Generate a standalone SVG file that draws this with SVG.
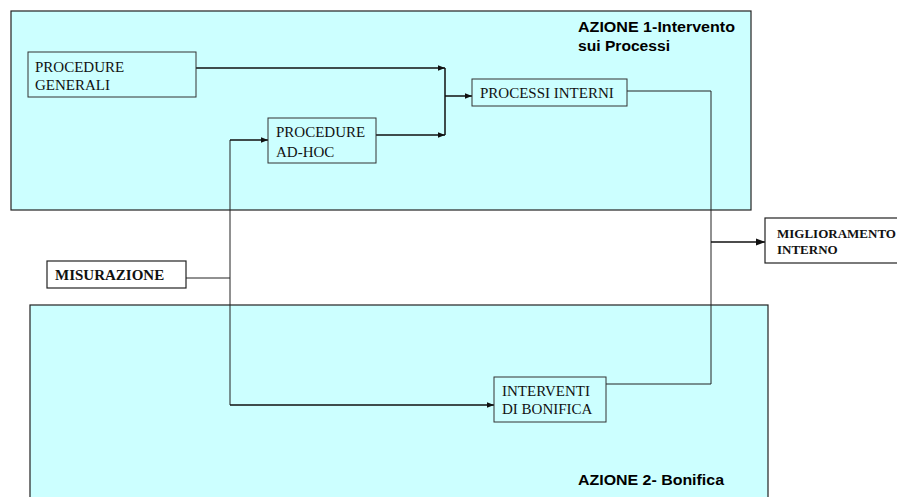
<svg xmlns="http://www.w3.org/2000/svg" width="897" height="497" viewBox="0 0 897 497">
<style>
.area{fill:#CCFFFF;stroke:#222;stroke-width:1.2}
.box{fill:#CCFFFF;stroke:#333;stroke-width:1}
.wbox{fill:#fff;stroke:#222;stroke-width:1.2}
.t{font-family:"Liberation Serif",serif;font-size:15px;fill:#111}
.tb{font-family:"Liberation Serif",serif;font-size:15px;font-weight:bold;fill:#111}
.h{font-family:"Liberation Sans",Arial,sans-serif;font-size:14px;font-weight:bold;fill:#000}
.c{fill:none;stroke:#111;stroke-width:1.5}
.c1{fill:none;stroke:#222;stroke-width:1}
</style>
<defs>
<marker id="ah" viewBox="0 0 10 10" refX="10" refY="5" markerWidth="5" markerHeight="5" orient="auto" markerUnits="strokeWidth">
<path d="M0,1 L10,5 L0,9 z" fill="#111"/>
</marker>
<marker id="ahb" viewBox="0 0 10 10" refX="10" refY="5" markerWidth="6" markerHeight="6" orient="auto" markerUnits="strokeWidth">
<path d="M0,1 L10,5 L0,9 z" fill="#111"/>
</marker>
</defs>
<rect width="897" height="497" fill="#fff"/>
<g id="azione1">
<rect class="area" x="11" y="11" width="740" height="199"/>
<text class="h" x="578" y="32" textLength="157" lengthAdjust="spacingAndGlyphs">AZIONE 1-Intervento</text>
<text class="h" x="578" y="51" textLength="92" lengthAdjust="spacingAndGlyphs">sui Processi</text>
</g>
<g id="azione2">
<rect class="area" x="30" y="305" width="738" height="200"/>
<text class="h" x="578" y="485" textLength="146" lengthAdjust="spacingAndGlyphs">AZIONE 2- Bonifica</text>
</g>
<g id="connectors">
<path class="c" d="M196,68 H445" marker-end="url(#ah)"/>
<path class="c" d="M376,135 H445" marker-end="url(#ah)"/>
<path class="c" d="M445,68 V135"/>
<path class="c" d="M445,96 H472" marker-end="url(#ah)"/>
<path class="c1" d="M627,91 H711 V384 H606"/>
<path class="c" d="M711,242 H765" marker-end="url(#ahb)"/>
<path class="c1" d="M186,278 H230"/>
<path class="c1" d="M230,405 V140"/>
<path class="c" d="M230,140 H268" marker-end="url(#ah)"/>
<path class="c" d="M230,405 H494" marker-end="url(#ah)"/>
</g>
<g id="procedure-generali">
<rect class="box" x="28" y="52" width="168" height="45"/>
<text class="t" x="35" y="72">PROCEDURE</text>
<text class="t" x="35" y="90">GENERALI</text>
</g>
<g id="procedure-adhoc">
<rect class="box" x="268" y="118" width="108" height="45"/>
<text class="t" x="276" y="137">PROCEDURE</text>
<text class="t" x="276" y="157">AD-HOC</text>
</g>
<g id="processi-interni">
<rect class="box" x="472" y="79" width="155" height="27"/>
<text class="t" x="480" y="98">PROCESSI INTERNI</text>
</g>
<g id="interventi">
<rect class="box" x="494" y="377" width="112" height="45"/>
<text class="t" x="502" y="396">INTERVENTI</text>
<text class="t" x="502" y="414">DI BONIFICA</text>
</g>
<g id="misurazione">
<rect class="wbox" x="47" y="261" width="139" height="27"/>
<text class="tb" x="55" y="280">MISURAZIONE</text>
</g>
<g id="miglioramento">
<rect class="wbox" x="765" y="218" width="140" height="45"/>
<text class="tb" x="777" y="238" style="font-size:13px">MIGLIORAMENTO</text>
<text class="tb" x="777" y="254" style="font-size:13px">INTERNO</text>
</g>
</svg>
